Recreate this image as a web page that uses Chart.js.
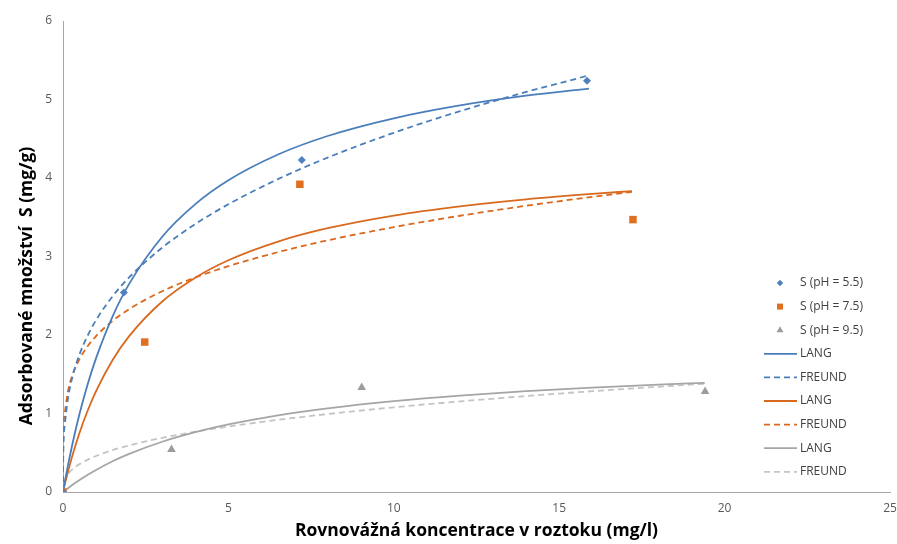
<!DOCTYPE html>
<html>
<head>
<meta charset="utf-8">
<script src="https://cdn.jsdelivr.net/npm/chart.js@4.4.1/dist/chart.umd.min.js"></script>
<style>
    body { margin: 0; background: #fff; }
    #wrap { width: 897px; height: 544px; position: relative; }
</style>
</head>
<body>
<div id="wrap"><canvas id="myChart"></canvas></div>
<script>
// measured points
var c55 = [0, 1.84, 7.22, 15.84];
var s55 = [0, 2.54, 4.23, 5.24];
var c75 = [0, 2.47, 7.16, 17.23];
var s75 = [0, 1.91, 3.92, 3.47];
var c95 = [0, 3.28, 9.03, 19.41];
var s95 = [0, 0.54, 1.33, 1.28];

// fitted isotherms (Langmuir / Freundlich), sampled along the curve
var cFit55 = [0, 0.005, 0.05, 0.15, 0.3, 0.5, 0.75, 1, 1.5, 2, 3, 4, 5, 6.5, 8, 10, 12, 14, 15.9];
var lang55 = [0, 0.012, 0.117, 0.339, 0.641, 0.996, 1.379, 1.706, 2.238, 2.651, 3.252, 3.667, 3.971, 4.299, 4.535, 4.760, 4.924, 5.048, 5.139];
var freu55 = [0, 0.402, 0.840, 1.193, 1.490, 1.754, 1.997, 2.190, 2.493, 2.734, 3.113, 3.413, 3.665, 3.986, 4.260, 4.576, 4.851, 5.096, 5.307];

var cFit75 = [0, 0.005, 0.05, 0.15, 0.3, 0.5, 0.75, 1, 1.5, 2, 3, 4, 5, 6.5, 8, 10, 12, 14, 16, 17.2];
var lang75 = [0, 0.009, 0.089, 0.257, 0.486, 0.754, 1.041, 1.285, 1.681, 1.986, 2.427, 2.730, 2.952, 3.190, 3.360, 3.522, 3.639, 3.729, 3.798, 3.833];
var freu75 = [0, 0.588, 0.998, 1.284, 1.506, 1.694, 1.860, 1.987, 2.181, 2.330, 2.558, 2.733, 2.877, 3.056, 3.206, 3.374, 3.519, 3.646, 3.760, 3.823];

var cFit95 = [0, 0.005, 0.05, 0.15, 0.3, 0.5, 0.75, 1, 1.5, 2, 3, 4, 5, 6.5, 8, 10, 12, 14, 16, 18, 19.4];
var lang95 = [0, 0.002, 0.017, 0.049, 0.095, 0.153, 0.220, 0.281, 0.391, 0.485, 0.640, 0.762, 0.860, 0.976, 1.065, 1.157, 1.228, 1.284, 1.330, 1.368, 1.391];
var freu95 = [0, 0.064, 0.151, 0.227, 0.294, 0.355, 0.413, 0.459, 0.534, 0.594, 0.690, 0.768, 0.834, 0.919, 0.993, 1.079, 1.154, 1.222, 1.284, 1.341, 1.379];

var xTicks = [0, 5, 10, 15, 20, 25];
var yTicks = [0, 1, 2, 3, 4, 5, 6];

var xTitle = 'Rovnovážná koncentrace v roztoku (mg/l)';
var yTitle = 'Adsorbované množství  S (mg/g)';

var blue = '#4a7ebb';
var orange = '#d9691f';
var gray = '#a5a5a5';

function pts(xs, ys) {
    var out = [];
    for (var i = 0; i < xs.length; i++) {
        out.push({ x: xs[i], y: ys[i] });
    }
    return out;
}

function markers(label, xs, ys, color, style, r) {
    return {
        label: label,
        data: pts(xs, ys),
        showLine: false,
        pointStyle: style,
        pointRadius: r,
        pointBackgroundColor: color,
        pointBorderWidth: 0,
        backgroundColor: color,
        borderColor: color
    };
}

function curve(label, xs, ys, color, dash) {
    return {
        label: label,
        data: pts(xs, ys),
        showLine: true,
        borderColor: color,
        borderWidth: 1.8,
        borderDash: dash,
        pointRadius: 0,
        cubicInterpolationMode: 'monotone',
        fill: false
    };
}

// legend on the right, inside the plot, plus the y title sitting a bit low
var sideLegend = {
    id: 'sideLegend',
    afterDraw: function(chart) {
        var ctx = chart.ctx;
        var sets = chart.data.datasets;
        ctx.save();
        ctx.font = '12px "Open Sans"';
        ctx.textBaseline = 'middle';
        for (var i = 0; i < sets.length; i++) {
            var ds = sets[i];
            var y = 283 + i * 23.6;
            if (ds.showLine) {
                ctx.strokeStyle = ds.borderColor;
                ctx.lineWidth = 1.8;
                ctx.setLineDash(ds.borderDash || []);
                ctx.beginPath();
                ctx.moveTo(764, y);
                ctx.lineTo(797, y);
                ctx.stroke();
                ctx.setLineDash([]);
            } else {
                ctx.fillStyle = ds.pointBackgroundColor;
                Chart.helpers.drawPoint(ctx, {
                    pointStyle: ds.pointStyle,
                    radius: ds.pointRadius * 0.8,
                    rotation: 0,
                    borderWidth: 0
                }, 780, y);
            }
            ctx.fillStyle = '#404040';
            ctx.fillText(ds.label, 800, y);
        }

        ctx.translate(27, 286);
        ctx.rotate(-Math.PI / 2);
        ctx.font = 'bold 17.5px "Open Sans"';
        ctx.fillStyle = '#000';
        ctx.textAlign = 'center';
        ctx.fillText(yTitle, 0, 0);
        ctx.restore();
    }
};

var ctx = document.getElementById('myChart');

var chart = new Chart(ctx, {
    type: 'scatter',
    data: {
        datasets: [
            markers('S (pH = 5.5)', c55, s55, '#4f81bd', 'rectRot', 4),
            markers('S (pH = 7.5)', c75, s75, '#e0701f', 'rect', 5.3),
            markers('S (pH = 9.5)', c95, s95, '#9c9c9c', 'triangle', 5),
            curve('LANG', cFit55, lang55, blue, []),
            curve('FREUND', cFit55, freu55, blue, [6, 4]),
            curve('LANG', cFit75, lang75, orange, []),
            curve('FREUND', cFit75, freu75, orange, [6, 4]),
            curve('LANG', cFit95, lang95, gray, []),
            curve('FREUND', cFit95, freu95, '#c4c4c4', [6, 4])
        ]
    },
    options: {
        responsive: true,
        maintainAspectRatio: false,
        animation: false,
        layout: {
            padding: { top: 21, right: 0, left: 0, bottom: 0 }
        },
        plugins: {
            legend: { display: false },
            tooltip: { enabled: false }
        },
        scales: {
            x: {
                type: 'linear',
                min: 0,
                max: 25,
                afterBuildTicks: function(scale) {
                    scale.ticks = xTicks.map(function(v) { return { value: v }; });
                },
                afterFit: function(scale) {
                    scale.height = 52;
                    scale.paddingRight = 7;
                },
                grid: { display: false, drawTicks: false },
                border: { display: true, color: '#a6a6a6', width: 1 },
                ticks: {
                    padding: 9,
                    color: '#595959',
                    font: { family: 'Open Sans', size: 12 }
                },
                title: {
                    display: true,
                    text: xTitle,
                    color: '#000',
                    font: { family: 'Open Sans', size: 17.5, weight: 'bold' },
                    padding: { top: 0, bottom: 2 }
                }
            },
            y: {
                type: 'linear',
                min: 0,
                max: 6,
                afterBuildTicks: function(scale) {
                    scale.ticks = yTicks.map(function(v) { return { value: v }; });
                },
                afterFit: function(scale) { scale.width = 63; },
                grid: { display: false, drawTicks: false },
                border: { display: true, color: '#a6a6a6', width: 1 },
                ticks: {
                    padding: 11,
                    color: '#595959',
                    font: { family: 'Open Sans', size: 12 }
                },
                title: { display: false }
            }
        }
    },
    plugins: [sideLegend]
});
</script>
</body>
</html>
